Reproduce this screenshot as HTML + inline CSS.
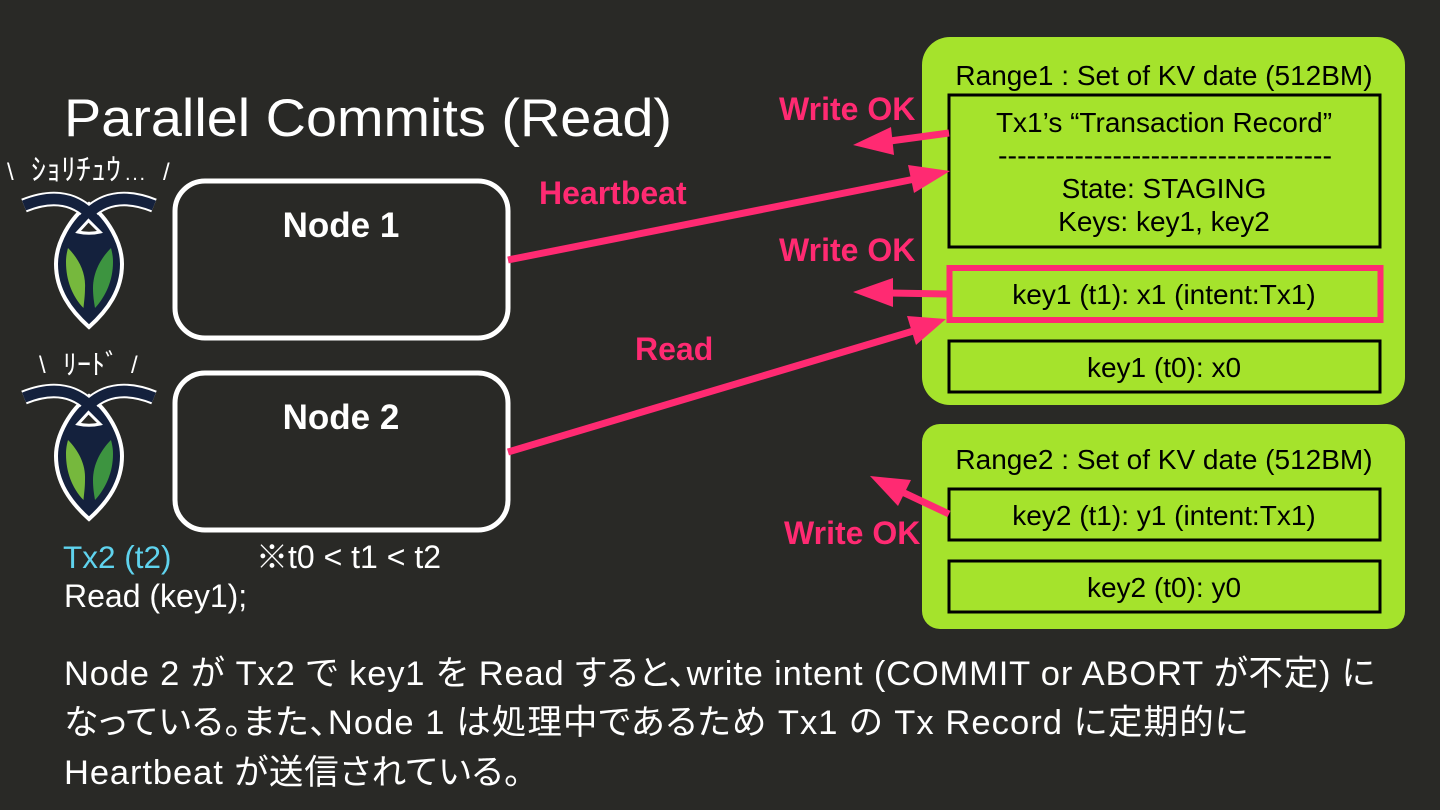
<!DOCTYPE html>
<html><head><meta charset="utf-8"><style>
html,body{margin:0;padding:0;background:#292926;width:1440px;height:810px;overflow:hidden}
svg{display:block}
text{font-family:"Liberation Sans","Noto Sans CJK JP",sans-serif}
.b{font-size:28px;fill:#000;text-anchor:middle}
.p{font-size:32px;font-weight:bold;fill:#ff2a72}
.w{fill:#fff}
.j{font-feature-settings:"palt"}
</style></head><body>
<svg width="1440" height="810" viewBox="0 0 1440 810" xmlns="http://www.w3.org/2000/svg">
<defs>
<g id="logo">
<path d="M89 204C70 218 56 243 56 264C56 290 70 310 89 327C108 310 122 290 122 264C122 243 108 218 89 204Z" fill="#14213d" stroke="#fff" stroke-width="4"/>
<path d="M24 205.5C50 195 72 197 89 213" fill="none" stroke="#fff" stroke-width="14.5"/>
<path d="M154 205.5C128 195 106 197 89 213" fill="none" stroke="#fff" stroke-width="14.5"/>
<path d="M24 205.5C50 195 72 197 89 213L97 222" fill="none" stroke="#14213d" stroke-width="10.5"/>
<path d="M154 205.5C128 195 106 197 89 213L81 222" fill="none" stroke="#14213d" stroke-width="10.5"/>
<path d="M88.5 220.5L100 232Q89 234.5 78 232Z" fill="#292926" stroke="#fff" stroke-width="3"/>
<path d="M68 248C78 258 86 272 85 288C85 296 84 302 83.5 308C72 296 66 280 66 262C66 256 67 252 68 248Z" fill="#76b83d"/>
<path d="M111 248C101 258 93 272 93 288C93 296 94 302 95 308C106 296 113 280 113 262C113 256 112 252 111 248Z" fill="#3d9440"/>
</g>
</defs>
<rect width="1440" height="810" fill="#292926"/>

<text x="64" y="136" font-size="53" class="w" textLength="608" lengthAdjust="spacingAndGlyphs">Parallel Commits (Read)</text>

<text x="7" y="180" font-size="24" class="w">\</text>
<text x="31" y="180" font-size="30" class="w">ｼｮﾘﾁｭｳ</text>
<text x="125" y="180" font-size="20" class="w" textLength="20">...</text>
<text x="163" y="180" font-size="24" class="w">/</text>
<use href="#logo"/>
<text x="39" y="373" font-size="24" class="w">\</text>
<text x="63" y="374" font-size="28" class="w">ﾘｰﾄﾞ</text>
<text x="131" y="373" font-size="24" class="w">/</text>
<use href="#logo" y="192"/>

<rect x="175" y="181" width="333" height="157" rx="30" fill="none" stroke="#fff" stroke-width="5"/>
<rect x="175" y="373" width="333" height="157" rx="30" fill="none" stroke="#fff" stroke-width="5"/>
<text x="341" y="237" font-size="35" font-weight="bold" class="w" text-anchor="middle">Node 1</text>
<text x="341" y="429" font-size="35" font-weight="bold" class="w" text-anchor="middle">Node 2</text>

<text x="63" y="568" font-size="31.5" fill="#5fd3ee">Tx2 (t2)</text>
<text x="256" y="568" font-size="32" class="w">※t0 &lt; t1 &lt; t2</text>
<text x="64" y="607" font-size="32" class="w">Read (key1);</text>

<rect x="922" y="37" width="483" height="368" rx="28" fill="#a5e32c"/>
<rect x="922" y="424" width="483" height="205" rx="18" fill="#a5e32c"/>

<text class="b" x="1164" y="85">Range1 : Set of KV date (512BM)</text>
<rect x="949" y="95" width="431" height="152" fill="none" stroke="#000" stroke-width="3"/>
<text class="b" x="1164" y="132">Tx1’s “Transaction Record”</text>
<text class="b" x="1165" y="165" textLength="334" lengthAdjust="spacingAndGlyphs">-----------------------------------</text>
<text class="b" x="1164" y="198">State: STAGING</text>
<text class="b" x="1164" y="231">Keys: key1, key2</text>
<rect x="949.5" y="268" width="431" height="52" fill="none" stroke="#ff2a72" stroke-width="6"/>
<text class="b" x="1164" y="304">key1 (t1): x1 (intent:Tx1)</text>
<rect x="949" y="341" width="431" height="51" fill="none" stroke="#000" stroke-width="3"/>
<text class="b" x="1164" y="377">key1 (t0): x0</text>

<text class="b" x="1164" y="469">Range2 : Set of KV date (512BM)</text>
<rect x="949" y="489" width="431" height="51" fill="none" stroke="#000" stroke-width="3"/>
<text class="b" x="1164" y="525">key2 (t1): y1 (intent:Tx1)</text>
<rect x="949" y="561" width="431" height="51" fill="none" stroke="#000" stroke-width="3"/>
<text class="b" x="1164" y="597">key2 (t0): y0</text>

<text class="p" x="779" y="120">Write OK</text>
<text class="p" x="779" y="261">Write OK</text>
<text class="p" x="784" y="544">Write OK</text>
<text class="p" x="539" y="204">Heartbeat</text>
<text class="p" x="635" y="360">Read</text>

<g stroke="#ff2a72" stroke-width="7" fill="none">
<line x1="949" y1="133" x2="890" y2="141"/>
<line x1="508" y1="260" x2="920" y2="178"/>
<line x1="947" y1="294" x2="890" y2="293"/>
<line x1="508" y1="452" x2="920" y2="329"/>
<line x1="949" y1="514" x2="898" y2="490"/>
</g>
<g fill="#ff2a72">
<polygon points="853,145 891,127 894,155"/>
<polygon points="950,171 908,165 914,193"/>
<polygon points="853,292 893,278 893,307"/>
<polygon points="946,319 907,316 916,345"/>
<polygon points="870,476 911,480 898,506"/>
</g>

<text x="64" y="685" font-size="34.5" class="w j" textLength="1311" lengthAdjust="spacing">Node 2 が Tx2 で key1 を Read すると、write intent (COMMIT or ABORT が不定) に</text>
<text x="64" y="734" font-size="34.5" class="w j" textLength="1184" lengthAdjust="spacing">なっている。また、Node 1 は処理中であるため Tx1 の Tx Record に定期的に</text>
<text x="64" y="784" font-size="34.5" class="w j" textLength="457" lengthAdjust="spacing">Heartbeat が送信されている。</text>
</svg>
</body></html>
